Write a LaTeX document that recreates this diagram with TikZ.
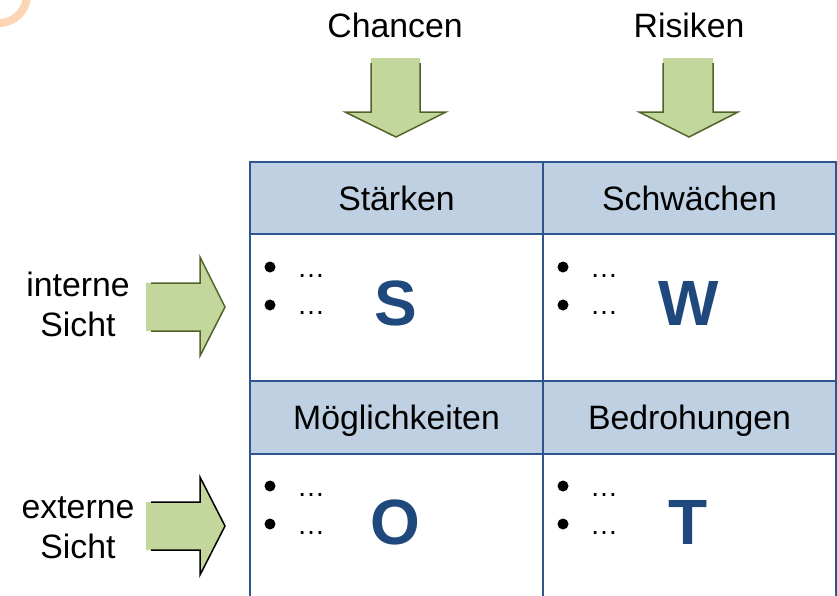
\documentclass[tikz,border=0pt]{standalone}
\usepackage{fontspec}
\setmainfont{Liberation Sans}
\definecolor{hdrfill}{HTML}{BFD0E3}
\definecolor{gridline}{HTML}{2E5590}
\definecolor{letter}{HTML}{1F497D}
\definecolor{arrfill}{HTML}{C3D69B}
\definecolor{arrline}{HTML}{4F6228}
\definecolor{ring}{HTML}{FCD5B5}
\tikzset{
  lbl/.style={font=\fontsize{33.8}{40}\selectfont, inner sep=0pt},
  hdr/.style={lbl, draw=gridline, fill=hdrfill, line width=2pt, anchor=north west,
    minimum width=293pt, minimum height=72.6pt, text height=24pt, text depth=0pt},
  cellbox/.style={draw=gridline, line width=2pt, anchor=north west, minimum width=293pt, inner sep=0pt},
  big/.style={font=\fontsize{64}{64}\selectfont\bfseries, text=letter, inner sep=0pt},
  bul/.style={font=\fontsize{28}{30}\selectfont, anchor=base west, inner sep=0pt},
  bulmark/.style={circle, fill=black, minimum size=11pt, inner sep=0pt},
  arrowfill/.style={fill=arrfill, draw=none},
  arrowline/.style={line width=1.5pt, line join=miter},
}
\begin{document}
\begin{tikzpicture}[x=1pt, y=-1pt]
\useasboundingbox (0,0) rectangle (837,595);
\clip (0,0) rectangle (837,595);
% decorative ring
\draw[ring, line width=8pt] (-1,-5) circle (28);
% top labels
\node[lbl] (chancen) at (395,25) {Chancen};
\node[lbl] (risiken) at (689,25) {Risiken};
% down arrows
\fill[arrowfill] (371,58) -- (420,58) -- (420,112) -- (446,112) -- (396,137) -- (345,112) -- (371,112) -- cycle;
\draw[arrowline, arrline] (371,63) -- (371,112) -- (345,112) -- (396,137) -- (446,112) -- (420,112) -- (420,63);
\fill[arrowfill] (663,58) -- (713,58) -- (713,112) -- (738,112) -- (689,137) -- (639,112) -- (663,112) -- cycle;
\draw[arrowline, arrline] (663,63) -- (663,112) -- (639,112) -- (689,137) -- (738,112) -- (713,112) -- (713,63);
% left labels
\node[lbl, align=center] (intern) at (78,304) {interne\\Sicht};
\node[lbl, align=center] (extern) at (78,528) {externe\\Sicht};
% right arrows
\fill[arrowfill] (146,283) -- (200,283) -- (200,257) -- (225,307) -- (200,356) -- (200,331) -- (146,331) -- cycle;
\draw[arrowline, arrline] (151,283) -- (200,283) -- (200,257) -- (225,307) -- (200,356) -- (200,331) -- (151,331);
\fill[arrowfill] (146,502) -- (200,502) -- (200,477) -- (225,526) -- (200,575) -- (200,550) -- (146,550) -- cycle;
\draw[arrowline, black] (151,502) -- (200,502) -- (200,477) -- (225,526) -- (200,575) -- (200,550) -- (151,550);
% table body cells
\node[cellbox, minimum height=146.7pt] (cS) at (249,233.3) {};
\node[cellbox, minimum height=146.7pt] (cW) at (542,233.3) {};
\node[cellbox, minimum height=220pt] (cO) at (249,452.7) {};
\node[cellbox, minimum height=220pt] (cT) at (542,452.7) {};
% headers
\node[hdr] (hS) at (249,160.7) {Stärken};
\node[hdr] (hW) at (542,160.7) {Schwächen};
\node[hdr] (hO) at (249,380) {Möglichkeiten};
\node[hdr] (hT) at (542,380) {Bedrohungen};
% bullets
\foreach \cx/\by/\bc/\nm in {249/277/267/s1, 249/314/305/s2, 542/277/267/w1, 542/314/305/w2, 249/496/486/o1, 249/534/524/o2, 542/496/486/t1, 542/534/524/t2}{
  \node[bulmark] (b\nm) at (\cx+21,\bc) {};
  \node[bul] (d\nm) at (\cx+48,\by) {…};
}
% big letters
\node[big] (S) at (395.5,303.5) {S};
\node[big] (W) at (688.5,303.5) {W};
\node[big] (O) at (395.5,522.5) {O};
\node[big] (T) at (688.5,522.5) {T};
\end{tikzpicture}
\end{document}
